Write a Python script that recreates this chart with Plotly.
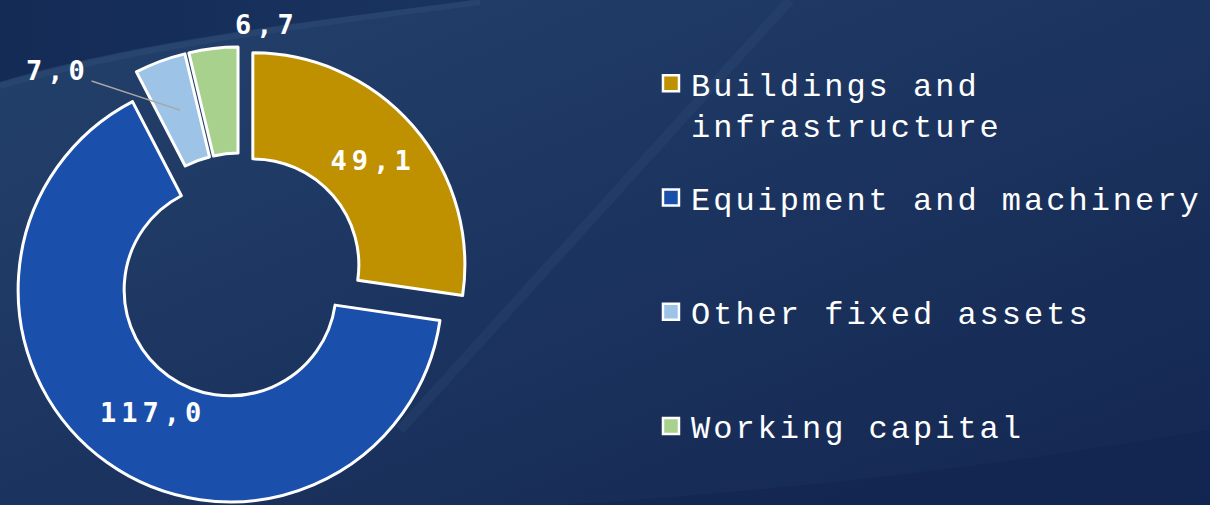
import base64
import plotly.graph_objects as go

labels = ["Buildings and<br>infrastructure", "Equipment and machinery", "Other fixed assets", "Working capital"]
values = [49.1, 117.0, 7.0, 6.7]
colors = ["#BF9000", "#1A4FAC", "#9DC3E6", "#A9D18E"]


def fmt(v):
    return f"{v:.1f}".replace(".", ",")


# background: dark navy with a lighter swoosh and a faint diagonal band
svg = """<svg xmlns='http://www.w3.org/2000/svg' width='1210' height='505' viewBox='0 0 1210 505' preserveAspectRatio='none'>
<defs>
<linearGradient id='g' x1='0' y1='0' x2='1' y2='1'>
<stop offset='0' stop-color='#23416c'/>
<stop offset='0.4' stop-color='#1d3762'/>
<stop offset='1' stop-color='#132651'/>
</linearGradient>
<linearGradient id='d' x1='0' y1='0' x2='1' y2='0'>
<stop offset='0' stop-color='#132b55'/>
<stop offset='1' stop-color='#1a3461'/>
</linearGradient>
</defs>
<rect width='1210' height='505' fill='url(#g)'/>
<path d='M0,0 L480,0 C330,18 140,40 0,82 Z' fill='url(#d)'/>
<path d='M0,86 C140,44 330,22 480,2' stroke='#2e4a75' stroke-width='6' fill='none' opacity='0.55'/>
<path d='M400,430 L790,0' stroke='#2f4b78' stroke-width='10' fill='none' opacity='0.3'/>
<path d='M1210,430 C1000,465 800,490 560,505 L1210,505 Z' fill='#132550' opacity='0.6'/>
</svg>"""
bg = "data:image/svg+xml;base64," + base64.b64encode(svg.encode()).decode()

label_font = dict(family="DejaVu Sans Mono", size=27, color="white", weight="bold")
spaced = "<span style='letter-spacing:5px'>{}</span>"

fig = go.Figure()
fig.add_trace(go.Pie(
    labels=labels,
    values=values,
    text=[spaced.format(fmt(values[0])), "", "", ""],
    texttemplate="%{text}",
    textposition="inside",
    insidetextorientation="horizontal",
    textfont=label_font,
    marker=dict(colors=colors, line=dict(color="white", width=3)),
    hole=0.5,
    pull=0.08,
    sort=False,
    direction="clockwise",
    rotation=0,
    domain=dict(x=[0.0091, 0.3876], y=[0, 0.907]),
    hoverinfo="label+value",
    showlegend=False,
))

# legend entries (square swatches)
for i, (name, c) in enumerate(zip(labels, colors)):
    txt = f"<span style='letter-spacing:3px'>{name}</span>"
    if "<br>" not in name:
        txt += "<br> "
    fig.add_trace(go.Scatter(
        x=[None], y=[None], mode="markers", name=txt, legendgroup=f"g{i}",
        marker=dict(symbol="square", size=17, color=c, line=dict(color="white", width=2.5)),
    ))

# value labels placed like the original
fig.add_annotation(x=0.1264, y=0.1822, xref="paper", yref="paper", showarrow=False,
                   text=spaced.format(fmt(values[1])), font=label_font,
                   xanchor="center", yanchor="middle")
fig.add_annotation(x=0.2207, y=0.9505, xref="paper", yref="paper", showarrow=False,
                   text=spaced.format(fmt(values[3])), font=label_font,
                   xanchor="center", yanchor="middle")
fig.add_annotation(x=0.1488, y=0.782, xref="paper", yref="paper",
                   ax=-122, ay=-40, showarrow=True,
                   arrowhead=0, arrowwidth=1.5, arrowcolor="#a6a6a6",
                   text=spaced.format(fmt(values[2])), font=label_font)

fig.update_layout(
    width=1210, height=505,
    margin=dict(l=0, r=0, t=0, b=0),
    paper_bgcolor="#1b3461",
    plot_bgcolor="rgba(0,0,0,0)",
    xaxis=dict(visible=False),
    yaxis=dict(visible=False),
    images=[dict(source=bg, xref="paper", yref="paper", x=0, y=1, sizex=1, sizey=1,
                 sizing="stretch", layer="below", xanchor="left", yanchor="top")],
    legend=dict(
        x=0.538, y=0.889, xanchor="left", yanchor="top",
        font=dict(family="Liberation Mono", size=32, color="white"),
        valign="top",
        tracegroupgap=28,
        bgcolor="rgba(0,0,0,0)",
    ),
    showlegend=True,
)

fig.write_html("out.html", config={"displayModeBar": False},
               post_script="document.body.style.margin='0';document.body.style.overflow='hidden';")
